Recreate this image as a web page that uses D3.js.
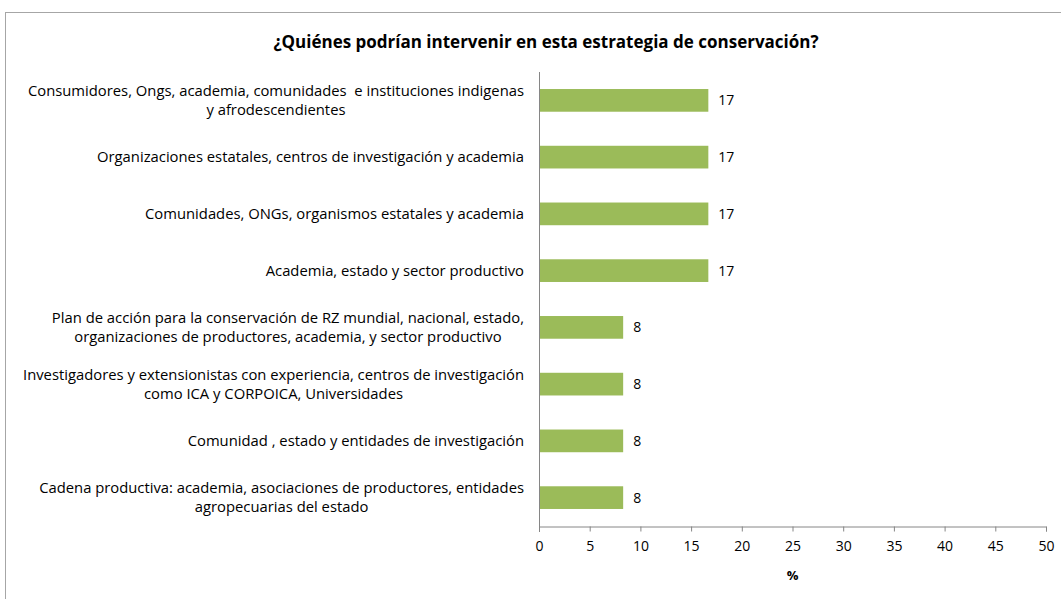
<!DOCTYPE html>
<html><head><meta charset="utf-8">
<script src="https://cdn.jsdelivr.net/npm/d3@7/dist/d3.min.js"></script>
<style>body{margin:0;background:#fff}svg{display:block}text{white-space:pre}</style>
</head><body>
<script>
const categories = [
  ["Consumidores, Ongs, academia, comunidades  e instituciones indigenas", "y afrodescendientes"],
  ["Organizaciones estatales, centros de investigación y academia"],
  ["Comunidades, ONGs, organismos estatales y academia"],
  ["Academia, estado y sector productivo"],
  ["Plan de acción para la conservación de RZ mundial, nacional, estado,", "organizaciones de productores, academia, y sector productivo"],
  ["Investigadores y extensionistas con experiencia, centros de investigación", "como ICA y CORPOICA, Universidades"],
  ["Comunidad , estado y entidades de investigación"],
  ["Cadena productiva: academia, asociaciones de productores, entidades", "agropecuarias del estado"]
];
const values = [16.7, 16.7, 16.7, 16.7, 8.3, 8.3, 8.3, 8.3];
const valueLabels = ["17", "17", "17", "17", "8", "8", "8", "8"];
const xTicks = [0, 5, 10, 15, 20, 25, 30, 35, 40, 45, 50];
const title = "¿Quiénes podrían intervenir en esta estrategia de conservación?";
const xTitle = "%";

(function () {
const W = 1061, H = 599;
const font = "'Open Sans', sans-serif";
const fs = 14;
const lfs = 14.8;
const svg = d3.select("body").append("svg").attr("width", W).attr("height", H);

svg.append("rect").attr("x", 5.5).attr("y", 12.5).attr("width", 1070).attr("height", 620)
  .attr("fill", "#fff").attr("stroke", "#a6a6a6").attr("stroke-width", 1);

svg.append("text").attr("x", 546).attr("y", 48).attr("text-anchor", "middle")
  .attr("font-family", font).attr("font-weight", "bold").attr("font-size", 17)
  .attr("fill", "#000").text(title);

const pl = 539, pr = 1046, pt = 72, pb = 526;
const x = d3.scaleLinear().domain([0, 50]).range([pl, pr]);
const y = d3.scaleBand().domain(d3.range(categories.length)).range([pt, pb]).paddingInner(0.6).paddingOuter(0.3);

svg.append("g").selectAll("rect").data(values).join("rect")
  .attr("x", x(0)).attr("y", (d, i) => y(i))
  .attr("width", d => x(d) - x(0)).attr("height", y.bandwidth())
  .attr("fill", "#9bbb59");

svg.append("g").selectAll("text").data(values).join("text")
  .attr("x", d => x(d) + 10).attr("y", (d, i) => y(i) + y.bandwidth() / 2)
  .attr("dy", "0.35em").attr("font-family", font).attr("font-size", fs).attr("fill", "#000")
  .text((d, i) => valueLabels[i]);

const xAxis = d3.axisBottom(x).tickValues(xTicks).tickSize(5).tickPadding(10);
const gx = svg.append("g").attr("transform", `translate(0,${pb + 0.5})`).call(xAxis);
gx.select(".domain").attr("stroke", "#868686");
gx.selectAll(".tick line").attr("stroke", "#868686");
gx.selectAll(".tick text").attr("font-family", font).attr("font-size", fs).attr("fill", "#000");

svg.append("line").attr("x1", pl + 0.5).attr("x2", pl + 0.5).attr("y1", pt).attr("y2", pb + 6)
  .attr("stroke", "#868686");

svg.append("text").attr("x", x(25)).attr("y", 580).attr("text-anchor", "middle")
  .attr("font-family", font).attr("font-weight", "bold").attr("font-size", 13).text(xTitle);

const catG = svg.append("g");
categories.forEach((lines, i) => {
  const cy = y(i) + y.bandwidth() / 2;
  const lh = 19;
  const t = catG.append("text").attr("font-family", font).attr("font-size", lfs).attr("fill", "#000");
  const tspans = lines.map((l, k) => t.append("tspan").attr("y", cy + (k - (lines.length - 1) / 2) * lh).attr("dy", "0.35em").text(l));
  const widths = tspans.map(s => s.node().getComputedTextLength());
  const bw = d3.max(widths);
  const rightEdge = 524;
  tspans.forEach(s => s.attr("x", rightEdge - bw / 2).attr("text-anchor", "middle"));
});
})();
</script>
</body></html>
